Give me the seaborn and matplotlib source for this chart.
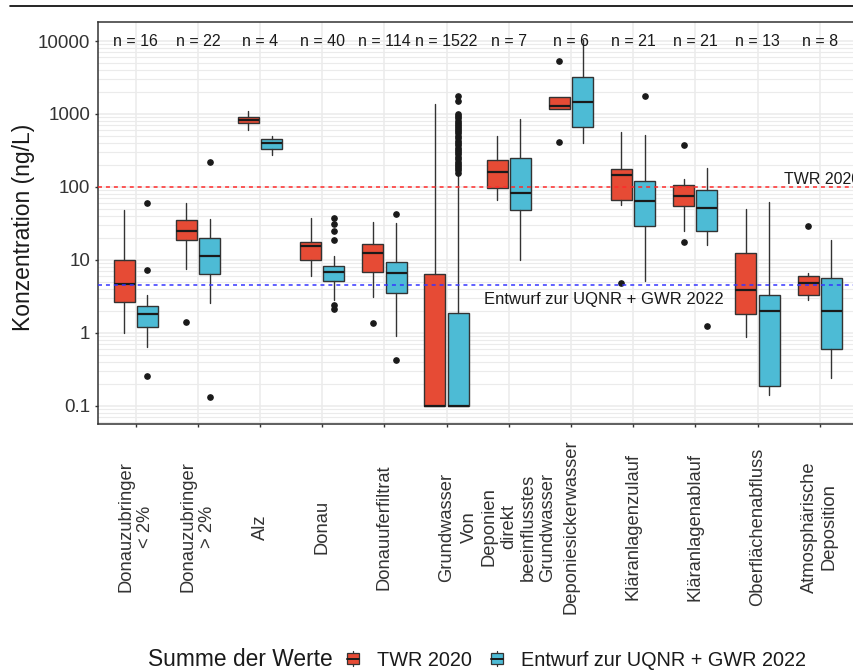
import numpy as np
import matplotlib
matplotlib.use("Agg")
import matplotlib.pyplot as plt
import seaborn as sns
from matplotlib.patches import Rectangle, Patch
from matplotlib.lines import Line2D
from matplotlib.legend_handler import HandlerBase
from matplotlib.ticker import FixedLocator, NullFormatter, LogLocator

# ---------------- data ----------------
categories = [
    "Donauzubringer\n< 2%",
    "Donauzubringer\n> 2%",
    "Alz",
    "Donau",
    "Donauuferfiltrat",
    "Grundwasser",
    "Von\nDeponien\ndirekt\nbeeinflusstes\nGrundwasser",
    "Deponiesickerwasser",
    "Kläranlagenzulauf",
    "Kläranlagenablauf",
    "Oberflächenabfluss",
    "Atmosphärische\nDeposition",
]
n_counts = [16, 22, 4, 40, 114, 1522, 7, 6, 21, 21, 13, 8]
series_names = ["TWR 2020", "Entwurf zur UQNR + GWR 2022"]
series_colors = ["#E64B35", "#4DBBD5"]

# TWR 2020 box statistics (ng/L)
twr_whislo = [1.0, 7.5, 600, 5.9, 3.1, 0.1, 67, 1180, 57, 25, 0.86, 2.78]
twr_q1 = [2.6, 18.4, 745, 10.0, 6.85, 0.1, 96, 1180, 67, 54, 1.79, 3.28]
twr_med = [4.7, 25, 825, 15.7, 12.3, 0.1, 162, 1285, 146, 75, 3.8, 4.85]
twr_q3 = [10.0, 35.5, 905, 17.8, 16.5, 6.4, 232, 1700, 175, 106, 12.3, 6.0]
twr_whishi = [48, 60, 1100, 38, 32.7, 1380, 500, 1700, 570, 128, 50, 6.6]
twr_fliers = [[], [1.4], [], [], [1.34], [], [], [5400, 409], [4.85], [372, 17.8], [], [28.8]]

# Entwurf zur UQNR + GWR 2022 box statistics (ng/L)
gwr_whislo = [0.63, 2.55, 275, 2.78, 0.9, 0.1, 10, 395, 5.1, 16.2, 0.14, 0.237]
gwr_q1 = [1.2, 6.4, 335, 5.05, 3.5, 0.1, 48, 668, 28.8, 24.6, 0.187, 0.59]
gwr_med = [1.83, 11.4, 404, 6.8, 6.6, 0.1, 82, 1456, 64, 51, 1.97, 2.0]
gwr_q3 = [2.3, 20, 449, 8.1, 9.2, 1.89, 252, 3220, 118.6, 92, 3.25, 5.6]
gwr_whishi = [3.3, 36.3, 503, 11.1, 31.6, 146, 843, 10400, 510, 184, 63, 18.9]
gwr_fliers = [
    [61, 7.2, 0.255],
    [218, 0.13],
    [],
    [37.5, 31, 25, 18.7, 2.42, 2.14],
    [42.5, 0.42],
    [1757, 1500, 990, 930, 870, 810, 760, 710, 660, 620, 580, 540, 500, 465,
     430, 400, 370, 345, 320, 300, 280, 260, 240, 222, 206, 192, 180, 168, 157],
    [],
    [],
    [1757],
    [1.24],
    [],
    [],
]

ref_values = [100, 4.46]
ref_labels = ["TWR 2020", "Entwurf zur UQNR + GWR 2022"]
ref_colors = ["#FF2A2A", "#3535FF"]

ytick_values = [0.1, 1, 10, 100, 1000, 10000]
ytick_labels = ["0.1", "1", "10", "100", "1000", "10000"]

# ---------------- style ----------------
sns.set_theme(style="white")
plt.rcParams["font.family"] = ["Liberation Sans", "DejaVu Sans"]

W, H = 854, 672
fig = plt.figure(figsize=(W / 100, H / 100), dpi=100)
left_px, right_px, top_px, bot_px = 98.4, 857.0, 21.7, 423.5
ax = fig.add_axes([left_px / W, 1 - bot_px / H, (right_px - left_px) / W, (bot_px - top_px) / H])
ax.set_yscale("log")
ax.set_xlim(-0.6, 11.6)
ax.set_ylim(0.0568, 18450)

# grid
grid_col = "#EBEBEB"
ax.set_axisbelow(True)
ax.yaxis.set_major_locator(FixedLocator(ytick_values))
ax.yaxis.set_minor_locator(LogLocator(base=10, subs=np.arange(2, 10)))
ax.yaxis.set_minor_formatter(NullFormatter())
ax.grid(True, which="major", axis="both", color=grid_col, lw=1.1, zorder=0)
ax.grid(True, which="minor", axis="y", color=grid_col, lw=0.8, zorder=0)
ax.tick_params(axis="y", which="minor", length=0)

# boxes
def stats_list(lo, q1, med, q3, hi, fl):
    return [dict(whislo=a, q1=b, med=c, q3=d, whishi=e, fliers=np.array(f, dtype=float))
            for a, b, c, d, e, f in zip(lo, q1, med, q3, hi, fl)]

series_stats = [
    stats_list(twr_whislo, twr_q1, twr_med, twr_q3, twr_whishi, twr_fliers),
    stats_list(gwr_whislo, gwr_q1, gwr_med, gwr_q3, gwr_whishi, gwr_fliers),
]
offsets = [-0.1875, 0.1875]
edge = "#333333"
for stats, color, off in zip(series_stats, series_colors, offsets):
    ax.bxp(
        stats,
        positions=np.arange(len(categories)) + off,
        widths=0.3375,
        patch_artist=True,
        showcaps=False,
        manage_ticks=False,
        boxprops=dict(facecolor=color, edgecolor=edge, linewidth=1.0),
        medianprops=dict(color="#1A1A1A", linewidth=1.6),
        whiskerprops=dict(color=edge, linewidth=1.0),
        flierprops=dict(marker="o", markerfacecolor="#1A1A1A", markeredgecolor="#1A1A1A",
                        markersize=3.8, linestyle="none"),
        zorder=3,
    )

# reference lines
for val, col in zip(ref_values, ref_colors):
    ax.axhline(val, color=col, lw=1.1, linestyle=(0, (2.6, 2.6)), zorder=4)
ax.text(10.43, 125, ref_labels[0], ha="left", va="center", fontsize=11.5, color="#1A1A1A", zorder=5)
ax.text(7.53, 2.84, ref_labels[1], ha="center", va="center", fontsize=12, color="#1A1A1A", zorder=5)

# n labels
for i, n in enumerate(n_counts):
    ax.text(i, 10000, f"n = {n}", ha="center", va="center", fontsize=11.5, color="#1A1A1A", zorder=5)

# axes, ticks
ax.set_yticklabels(ytick_labels)
ax.set_xticks(np.arange(len(categories)))
ax.set_xticklabels(categories, rotation=90, va="center", ha="center", multialignment="center",
                   fontsize=13.2, color="#333333", linespacing=1.2)
ax.tick_params(axis="x", which="major", direction="out", length=2.5, width=1.0, color=edge,
               pad=72, bottom=True)
ax.tick_params(axis="y", which="major", direction="out", length=2.5, width=1.0, color=edge,
               pad=3.5, labelsize=13.5, labelcolor="#333333", left=True)
for s in ax.spines.values():
    s.set_color("#333333")
    s.set_linewidth(1.1)

ax.set_ylabel("Konzentration (ng/L)", fontsize=16.5, color="#1A1A1A")
ax.yaxis.set_label_coords(-0.084, 0.489)
ax.set_xlabel("")

# top separator line
fig.add_artist(Line2D([10 / W, 1.0], [1 - 6 / H, 1 - 6 / H], color="black", lw=1.2,
                      transform=fig.transFigure))

# legend
class BoxKeyHandler(HandlerBase):
    def create_artists(self, legend, orig_handle, xdescent, ydescent, width, height, fontsize, trans):
        fc = orig_handle.get_facecolor()
        cx = -xdescent + width / 2
        cy = -ydescent + height / 2
        bw, bh, wh = 8.5, 7.5, 10.5
        box = Rectangle((cx - bw / 2, cy - bh / 2), bw, bh, facecolor=fc, edgecolor=edge,
                        lw=0.9, transform=trans)
        wl = Line2D([cx, cx], [cy - wh / 2, cy + wh / 2], color=edge, lw=0.9, transform=trans)
        med = Line2D([cx - bw / 2, cx + bw / 2], [cy, cy], color="#1A1A1A", lw=1.4, transform=trans)
        return [wl, box, med]

legend_y = 1 - 660 / H
handles = [Patch(facecolor=c) for c in series_colors]
fig.legend(handles=handles, labels=series_names, handler_map={Patch: BoxKeyHandler()},
           loc="center left", bbox_to_anchor=(342.7 / W, legend_y), ncol=2, frameon=False,
           fontsize=14.3, handlelength=1.05, handletextpad=0.68, columnspacing=0.72,
           borderpad=0, borderaxespad=0, labelcolor="#1A1A1A")
fig.text(148 / W, legend_y, "Summe der Werte", ha="left", va="center", fontsize=16.4, color="#1A1A1A")

fig.savefig("out.png", dpi=100)
